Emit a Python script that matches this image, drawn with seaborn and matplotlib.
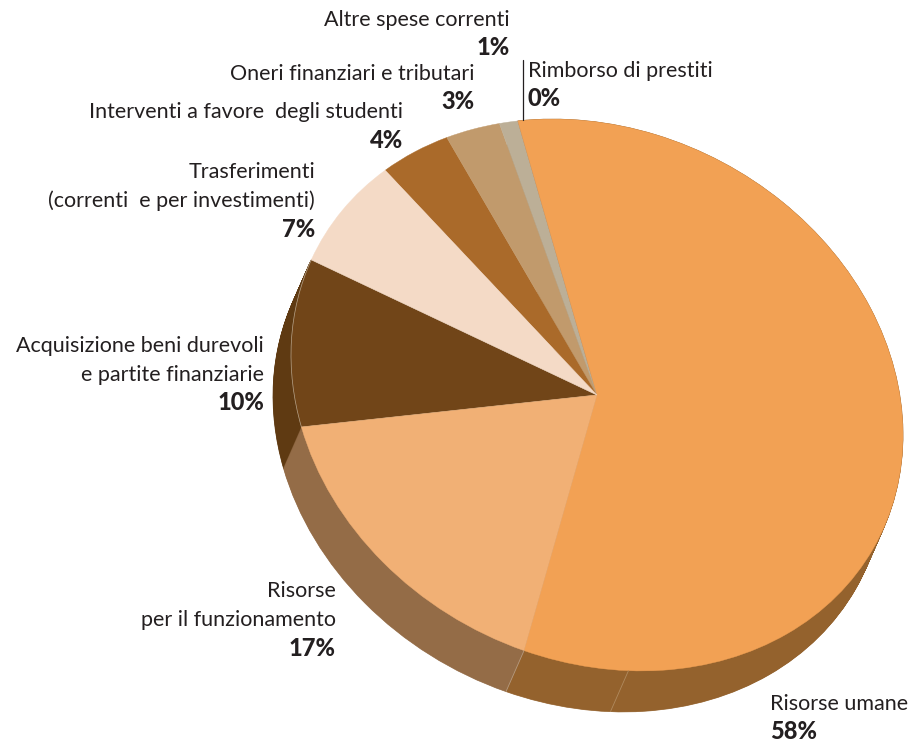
import matplotlib
matplotlib.use("Agg")
import matplotlib.pyplot as plt
from matplotlib.transforms import Affine2D
import numpy as np
import seaborn as sns

categories = ["Risorse umane", "Risorse per il funzionamento",
              "Acquisizione beni durevoli e partite finanziarie",
              "Trasferimenti (correnti e per investimenti)",
              "Interventi a favore degli studenti",
              "Oneri finanziari e tributari", "Altre spese correnti",
              "Rimborso di prestiti"]
values = [58, 17, 10, 7, 4, 3, 1, 0]
top_colors = ["#F2A154", "#F1B075", "#714518", "#F4DAC6",
              "#AA6A2A", "#C19A6C", "#BCAF97", "#8A8A8A"]
side_colors = ["#94622D", "#946C47", "#5F3A12"]

label_rows = [
    ("Altre spese correnti", 510, 26, "right", False),
    ("1%", 510, 55, "right", True),
    ("Oneri finanziari e tributari", 474, 80, "right", False),
    ("3%", 474, 109, "right", True),
    ("Interventi a favore  degli studenti", 403, 118, "right", False),
    ("4%", 403, 148, "right", True),
    ("Trasferimenti", 315, 178, "right", False),
    ("(correnti  e per investimenti)", 315, 207, "right", False),
    ("7%", 315, 237, "right", True),
    ("Acquisizione beni durevoli", 264, 352, "right", False),
    ("e partite finanziarie", 264, 381, "right", False),
    ("10%", 264, 410, "right", True),
    ("Risorse", 336, 597, "right", False),
    ("per il funzionamento", 336, 626, "right", False),
    ("17%", 336, 656, "right", True),
    ("Risorse umane", 770, 710, "left", False),
    ("58%", 770, 739, "left", True),
    ("Rimborso di prestiti", 528, 77, "left", False),
    ("0%", 528, 106, "left", True),
]

sns.set_theme(style="white")
plt.rcParams["font.family"] = ["Lato", "DejaVu Sans"]

fig = plt.figure(figsize=(9.14, 7.43), dpi=100, facecolor="white")
ax = fig.add_axes([0, 0, 1, 1])

# Tilted disc: unit pie sheared into screen space, y axis pointing down.
CX, CY = 597, 395
disc = Affine2D.from_values(306, 40, 0, -273, CX, CY)
START = 105
DEPTH = (-18, 41)

# Rim: the three front slices swept from the lower face up to the top face.
for k in np.linspace(1, 0, 60):
    wedges, _ = ax.pie(values, colors=top_colors, startangle=START, counterclock=False)
    for i, w in enumerate(wedges):
        if i < 3:
            w.set_facecolor(side_colors[i])
            w.set_edgecolor(side_colors[i])
            w.set_linewidth(0.5)
            w.set_transform(disc + Affine2D().translate(DEPTH[0] * k, DEPTH[1] * k) + ax.transData)
        else:
            w.remove()

# Top face
wedges, _ = ax.pie(values, colors=top_colors, startangle=START, counterclock=False)
for w, c in zip(wedges, top_colors):
    w.set_transform(disc + ax.transData)
    w.set_edgecolor(c)
    w.set_linewidth(0.3)
wedges[2].set_edgecolor("#B9A58C")
wedges[2].set_linewidth(0.5)
wedges[0].set_zorder(wedges[2].get_zorder() + 1)
wedges[1].set_zorder(wedges[2].get_zorder() + 1)
wedges[3].set_zorder(wedges[2].get_zorder() + 1)

ax.set_aspect("auto")
ax.set_xlim(0, 914)
ax.set_ylim(743, 0)
ax.axis("off")

# Hairline seams on the rim
for angle, color in [(-84.1, "#B08A5E"), (START - 360 * values[0] / 100, "#B59A7E")]:
    a = np.deg2rad(angle)
    x0, y0 = CX + 306 * np.cos(a), CY + 40 * np.cos(a) - 273 * np.sin(a)
    ax.plot([x0, x0 + DEPTH[0]], [y0, y0 + DEPTH[1]], color=color, lw=0.6, zorder=5)

# Leader for the empty slice
ax.plot([523, 523], [60, 120], color="#231F20", lw=0.9, zorder=6)

for text, x, y, ha, bold in label_rows:
    ax.text(x, y, text, ha=ha, va="baseline", color="#231F20",
            fontsize=17 if bold else 15.5,
            fontweight=900 if bold else "normal", zorder=7)

fig.savefig("out.png", dpi=100, facecolor="white")
